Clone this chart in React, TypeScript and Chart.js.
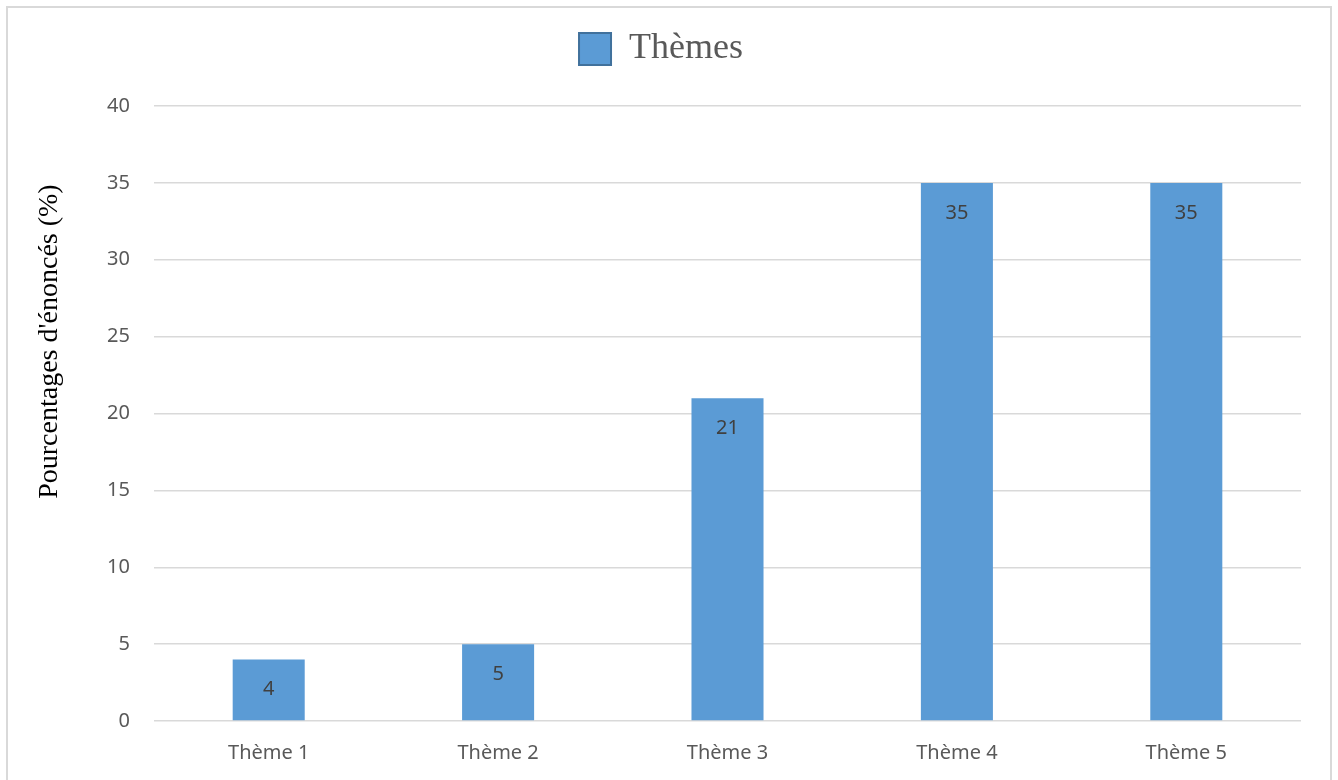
import React, { useEffect, useRef } from "react";
import { Chart, registerables } from "chart.js";

Chart.register(...registerables);

const categories = ["Thème 1", "Thème 2", "Thème 3", "Thème 4", "Thème 5"];
const values = [4, 5, 21, 35, 35];
const seriesName = "Thèmes";
const yTitle = "Pourcentages d'énoncés (%)";
const yMin = 0;
const yMax = 40;
const yStep = 5;

const BAR = "#5B9BD5";
const TEXT = "#595959";

const legendSpacer = {
  id: "legendSpacer",
  beforeLayout(chart: any) {
    const legend = chart.legend;
    if (!legend || legend._patched) return;
    const fit = legend.fit;
    legend.fit = function () {
      fit.call(this);
      this.height += 29;
    };
    legend._patched = true;
  },
};

const dataLabels = {
  id: "dataLabels",
  afterDatasetsDraw(chart: any) {
    const ctx = chart.ctx;
    const meta = chart.getDatasetMeta(0);
    ctx.save();
    ctx.fillStyle = "#404040";
    ctx.font = '20px "Noto Sans"';
    ctx.textAlign = "center";
    ctx.textBaseline = "middle";
    meta.data.forEach((el: any, i: number) => {
      ctx.fillText(String(values[i]), el.x, el.y + 30);
    });
    ctx.restore();
  },
};

const yAxisTitle = {
  id: "yAxisTitle",
  afterDraw(chart: any) {
    const ctx = chart.ctx;
    const area = chart.chartArea;
    ctx.save();
    ctx.translate(area.left - 104, area.top + (area.bottom - area.top) * 0.383);
    ctx.rotate(-Math.PI / 2);
    ctx.fillStyle = "#000000";
    ctx.font = '28px "Liberation Serif"';
    ctx.textAlign = "center";
    ctx.textBaseline = "middle";
    ctx.fillText(yTitle, 0, 0);
    ctx.restore();
  },
};

export default function App() {
  const ref = useRef<HTMLCanvasElement | null>(null);

  useEffect(() => {
    if (!ref.current) return;
    const chart = new Chart(ref.current, {
      type: "bar",
      data: {
        labels: categories,
        datasets: [
          {
            label: seriesName,
            data: values,
            backgroundColor: BAR,
            borderWidth: 0,
            categoryPercentage: 1,
            barPercentage: 0.314,
          },
        ],
      },
      options: {
        animation: false,
        responsive: true,
        maintainAspectRatio: false,
        layout: { padding: { left: 21, right: 37, top: 21, bottom: -5 } },
        plugins: {
          tooltip: { enabled: false },
          legend: {
            display: true,
            position: "top",
            labels: {
              boxWidth: 32,
              boxHeight: 32,
              padding: 10,
              color: TEXT,
              font: { family: '"Liberation Serif"', size: 36 },
              generateLabels: (c: any) =>
                Chart.defaults.plugins.legend.labels
                  .generateLabels(c)
                  .map((l: any) => ({ ...l, strokeStyle: "#41719C", lineWidth: 2 })),
            },
          },
        },
        scales: {
          x: {
            grid: { display: false, drawTicks: false },
            border: { display: false },
            ticks: {
              color: TEXT,
              padding: 22,
              font: { family: '"Noto Sans"', size: 20, lineHeight: 1 },
            },
          },
          y: {
            min: yMin,
            max: yMax,
            border: { display: false },
            grid: { color: "#d9d9d9", lineWidth: 1.5, drawTicks: false },
            afterFit: (scale: any) => {
              scale.width = 133;
            },
            ticks: {
              stepSize: yStep,
              color: TEXT,
              padding: 24,
              font: { family: '"Noto Sans"', size: 20 },
            },
          },
        },
      },
      plugins: [legendSpacer, dataLabels, yAxisTitle],
    });
    return () => chart.destroy();
  }, []);

  return (
    <div
      style={{
        position: "fixed",
        left: 0,
        top: 0,
        width: 1338,
        height: 780,
        overflow: "hidden",
        background: "#ffffff",
      }}
    >
      <div
        style={{
          position: "absolute",
          left: 6,
          top: 6,
          width: 1326,
          height: 800,
          border: "2px solid #d9d9d9",
          boxSizing: "border-box",
        }}
      />
      <div style={{ position: "absolute", left: 0, top: 0, width: 1338, height: 780 }}>
        <canvas ref={ref} />
      </div>
    </div>
  );
}
